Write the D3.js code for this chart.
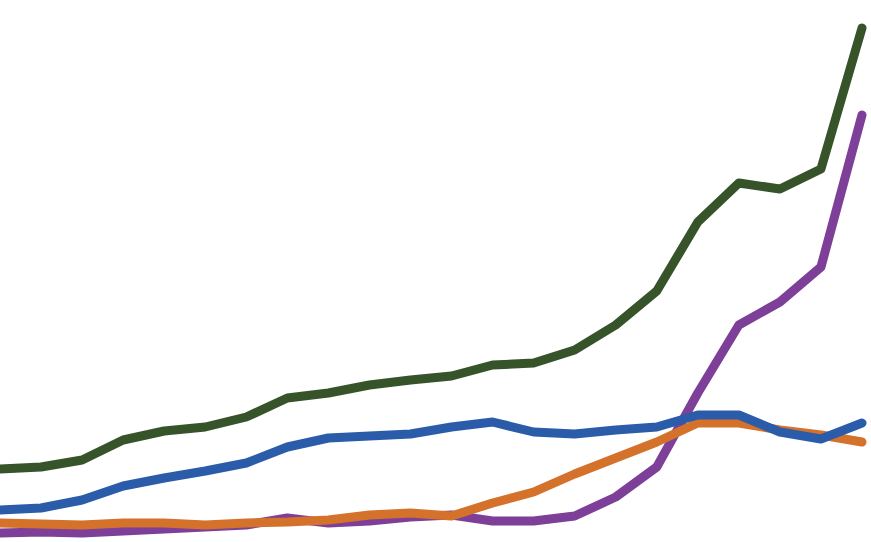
<!DOCTYPE html>
<html>
<head>
<meta charset="utf-8">
<script src="https://cdn.jsdelivr.net/npm/d3@7"></script>
<style>
  body { margin: 0; background: #fff; }
  svg { display: block; }
</style>
</head>
<body>
<div id="chart"></div>
<script>
// one value per period, 22 periods
let periods = d3.range(22);

let green  = [71, 73, 80, 100, 109, 113, 123, 142, 147, 155, 160, 164, 175, 177, 190, 215, 249, 318, 357, 351, 371, 512];
let blue   = [30, 32, 40, 54, 62, 69, 77, 93, 102, 104, 106, 113, 118, 108, 106, 110, 113, 125, 125, 108, 101, 117];
let orange = [17, 16, 15, 17, 17, 15, 17, 18, 20, 25, 27, 24, 37, 48, 66, 82, 98, 117, 117, 110, 105, 98];
let purple = [7, 8, 7, 9, 11, 13, 15, 22, 17, 19, 23, 25, 19, 19, 24, 43, 73, 147, 215, 238, 273, 425];

//----------------------------------------
// SVG setup
let width = 871,
    height = 542;

let svg = d3.select('#chart').append('svg')
    .attr('width', width)
    .attr('height', height);

//----------------------------------------
// Scales
let x = d3.scaleLinear()
    .domain([0, periods.length - 1])
    .range([0, 862]);

let y = d3.scaleLinear()
    .domain([0, 520])
    .range([540, 20]);

let line = d3.line()
    .x(function(d, i) { return x(periods[i]); })
    .y(function(d) { return y(d); });

// drawn bottom to top: purple, orange, blue, green
let series = [
    { values: purple, color: '#7d3f98' },
    { values: orange, color: '#d4712b' },
    { values: blue,   color: '#2a5caa' },
    { values: green,  color: '#37532a' }
];

svg.selectAll('path')
    .data(series)
    .enter()
    .append('path')
    .attr('d', function(d) { return line(d.values); })
    .style('fill', 'none')
    .style('stroke', function(d) { return d.color; })
    .style('stroke-width', 9)
    .style('stroke-linejoin', 'round')
    .style('stroke-linecap', 'round');
</script>
</body>
</html>
